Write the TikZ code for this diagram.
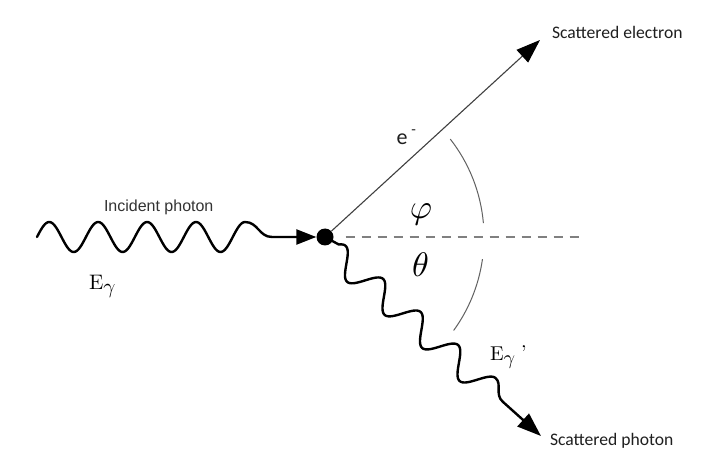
\documentclass[tikz,border=0pt]{standalone}
\usepackage{fontspec}
\newfontfamily\calibrifont{Carlito}
\newfontfamily\arialfont{Liberation Sans}
\usetikzlibrary{arrows.meta}
\begin{document}
\begin{tikzpicture}[x=1pt,y=1pt,
  photon/.style={line width=2.4pt, black, line join=round, line cap=round},
  eline/.style={line width=1.1pt, black!75},
  anglearc/.style={line width=1pt, black!62},
  axisline/.style={line width=1.3pt, black!50, dash pattern=on 9pt off 7pt},
  lbl/.style={inner sep=0pt, outer sep=0pt},
  vertexdot/.style={circle, fill=black, inner sep=0pt, minimum size=17pt},
  bigtip/.style={-{Triangle[length=24pt,width=17pt,color=black]}},
  smalltip/.style={-{Triangle[length=20pt,width=15pt,color=black]}}
]
\fill[white] (0,0) rectangle (709,-470);
\useasboundingbox (0,0) rectangle (709,-470);

% vertex
\node[vertexdot] (v) at (325,-237) {};
\coordinate (istart) at (37,-237);
\coordinate (etip) at (540,-40);
\coordinate (ptip) at (541,-436);
\coordinate (hend) at (582,-237);

% horizontal dashed reference line
\draw[axisline, shorten <=12pt] (v.east) -- (hend);

% angle arcs
\draw[anglearc] (v.center) ++(5:159) arc[start angle=5, end angle=38, radius=159];
\draw[anglearc] (v.center) ++(-8:159) arc[start angle=-8, end angle=-36, radius=159];

% incident photon
\draw[photon, smalltip] (istart) -- plot[domain=37:245, samples=160]
  (\x, {-237+15*sin((\x-37)*7.35577)})
  .. controls (258,-222) and (259,-237) .. (272,-237) -- (v);

% scattered electron
\draw[eline, bigtip] (v) -- (etip);

% scattered photon
\begin{scope}[shift={(325,-245)}, rotate=-41.4]
\draw[photon, bigtip] (v) -- plot[domain=10:216, samples=160]
  (\x, {13*cos((\x-16)*7.2)})
  .. controls (225,13) and (226,0) .. (237,0) -- (ptip);
\end{scope}

% labels
\node[lbl, anchor=base west, text=black!80, font=\arialfont\fontsize{16}{16}\selectfont]
  (inc) at (104,-211.5) {Incident photon};
\node[lbl, anchor=base west, text=black!88, font=\calibrifont\fontsize{17.6}{17.6}\selectfont]
  (se) at (552,-39) {Scattered electron};
\node[lbl, anchor=base west, text=black!88, font=\calibrifont\fontsize{17.6}{17.6}\selectfont]
  (sp) at (550,-445) {Scattered photon};
\node[lbl, anchor=base west]
  (eg) at (89,-290) {\scalebox{2.1}{E}\raisebox{-4pt}{\scalebox{2.1}{$\gamma$}}};
\node[lbl, anchor=base west]
  (egp) at (490,-360) {\scalebox{2}{E}\raisebox{-4pt}{\scalebox{2}{$\gamma$}}\hspace{6pt}\raisebox{1pt}{\scalebox{2}{'}}};
\node[lbl, anchor=base west, text=black!88, font=\calibrifont\fontsize{22}{22}\selectfont]
  (el) at (396.5,-145) {e\hspace{4pt}\raisebox{10pt}{\fontsize{15}{15}\selectfont -}};
\node[lbl] (phi) at (421,-214.5) {\scalebox{3.4}{$\varphi$}};
\node[lbl] (theta) at (420.5,-265) {\scalebox{3.4}{$\theta$}};
\end{tikzpicture}
\end{document}
